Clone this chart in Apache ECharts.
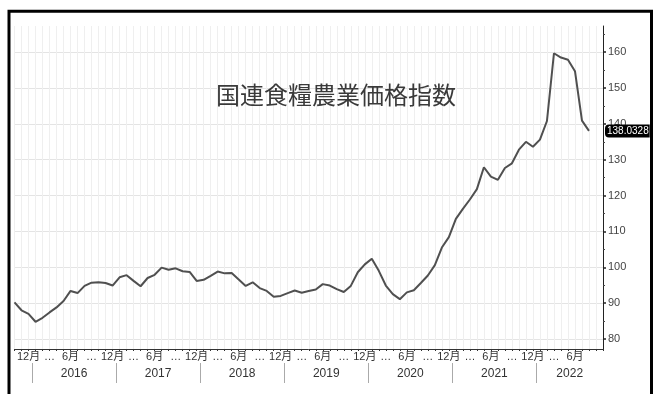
<!DOCTYPE html>
<html><head><meta charset="utf-8">
<script src="https://cdn.jsdelivr.net/npm/echarts@6/dist/echarts.min.js"></script>
<style>html,body{margin:0;padding:0;background:#fff}#c{width:657px;height:394px}</style>
</head><body><div id="c"></div>
<script>
// ---- data ----
const startYear = 2015, startMonth = 10, monthCount = 85; // Oct 2015 .. Oct 2022
const months = [];
for (let i = 0; i < monthCount; i++) {
  const t = startYear * 12 + (startMonth - 1) + i;
  const y = Math.floor(t / 12), m = t % 12 + 1;
  months.push(y + '-' + (m < 10 ? '0' + m : m));
}
const indexValues = [
  90.2, 88.0, 87.0,
  84.8, 85.9, 87.4, 88.8, 90.6, 93.4, 92.8, 94.8, 95.7, 95.8, 95.6, 94.9,
  97.2, 97.8, 96.2, 94.7, 97.0, 97.9, 99.9, 99.3, 99.7, 98.9, 98.7, 96.2,
  96.5, 97.6, 98.8, 98.3, 98.4, 96.6, 94.8, 95.8, 94.2, 93.4, 91.8, 92.0,
  92.8, 93.5, 92.9, 93.4, 93.8, 95.3, 94.9, 93.9, 93.1, 94.8, 98.6, 100.8,
  102.4, 99.0, 94.9, 92.5, 91.1, 93.0, 93.6, 95.6, 97.7, 100.6, 105.5, 108.4,
  113.5, 116.3, 118.9, 121.8, 127.9, 125.3, 124.4, 127.7, 129.0, 132.8, 135.0, 133.6,
  135.6, 140.8, 159.7, 158.5, 157.9, 154.7, 140.9, 138.0328
];
const yTickLabels = [80, 90, 100, 110, 120, 130, 140, 150, 160];
const yMinorTicks = [85, 95, 105, 115, 125, 135, 145, 155, 165];
const yearLabels = ['2016', '2017', '2018', '2019', '2020', '2021', '2022'];
const monthLabelText = { 12: '12月', 6: '6月', 3: '…', 9: '…' };

// ---- derived ----
const lastIdx = indexValues.length - 1;
const lastValue = indexValues[lastIdx];
const seriesData = months.map((m, i) => i < indexValues.length ? indexValues[i] : null);
const yearBoundaries = [], yearCenters = [];
yearLabels.forEach(y => {
  const first = months.indexOf(y + '-01');
  const lastInYear = months.lastIndexOf(months.filter(m => m.startsWith(y)).slice(-1)[0]);
  const lo = first - 0.5;
  const hi = Math.min(lastInYear + 0.5, monthCount - 1);
  yearBoundaries.push(lo);
  yearCenters.push((lo + hi) / 2);
});

const font = '"Liberation Sans", "Noto Sans CJK JP", sans-serif';
const chart = echarts.init(document.getElementById('c'));
chart.setOption({
  animation: false,
  backgroundColor: '#fff',
  title: {
    text: '国連食糧農業価格指数',
    left: 216, top: 83, padding: 0,
    textStyle: { fontFamily: '"Noto Sans CJK JP", sans-serif', fontSize: 24, fontWeight: 'normal', color: '#3a3a3a' }
  },
  graphic: [{
    type: 'rect', silent: true, z: 100,
    shape: { x: 9, y: 11.3, width: 642.5, height: 400 },
    style: { fill: 'none', stroke: '#000', lineWidth: 3 }
  }],
  grid: { left: 14.5, right: 54, top: 26, bottom: 45 },
  xAxis: [{
    type: 'category', data: months, boundaryGap: false,
    axisLine: { onZero: false, lineStyle: { color: '#333', width: 1 } },
    axisTick: { show: true, interval: 0, length: 2, lineStyle: { color: '#333' } },
    splitLine: { show: true, interval: 0, lineStyle: { color: '#efefef', width: 1 } },
    axisLabel: {
      interval: (i, v) => i <= lastIdx && monthLabelText[+v.slice(5)] !== undefined,
      formatter: (v) => monthLabelText[+v.slice(5)] || '',
      margin: 2, fontSize: 11, color: '#333', fontFamily: font
    }
  }, {
    type: 'value', min: 0, max: monthCount - 1, position: 'bottom', offset: 14,
    axisLine: { show: false, onZero: false },
    splitLine: { show: false },
    axisTick: { show: true, customValues: yearBoundaries, length: 20, lineStyle: { color: '#aaa' } },
    axisLabel: {
      customValues: yearCenters,
      formatter: (v) => yearLabels[yearCenters.findIndex(c => Math.abs(c - v) < 1e-6)] || '',
      margin: 5, fontSize: 12, color: '#333', fontFamily: font
    }
  }],
  yAxis: [{
    type: 'value', position: 'right', min: 77.2, max: 167.3,
    axisLine: { show: true, onZero: false, lineStyle: { color: '#222', width: 1 } },
    axisTick: { show: true, customValues: yTickLabels, length: 3, lineStyle: { color: '#222', width: 1.5 } },
    axisLabel: { customValues: yTickLabels, margin: 5, fontSize: 11, color: '#444', fontFamily: font },
    splitLine: { show: true, lineStyle: { color: '#e4e4e4', width: 1 } }
  }, {
    type: 'value', position: 'right', min: 77.2, max: 167.3,
    axisLine: { show: false, onZero: false },
    axisTick: { show: true, customValues: yMinorTicks, length: 2, lineStyle: { color: '#444' } },
    axisLabel: { show: false },
    splitLine: { show: false }
  }],
  series: [{
    type: 'line', data: seriesData, xAxisIndex: 0, yAxisIndex: 0,
    symbol: 'none', connectNulls: false, clip: false,
    lineStyle: { color: '#505050', width: 2 },
    markLine: {
      silent: true, symbol: 'none', z: 10,
      lineStyle: { color: 'rgba(0,0,0,0)', opacity: 1, width: 1, type: 'solid' },
      data: [{ yAxis: lastValue }],
      label: {
        show: true, position: 'end', distance: 2, opacity: 1,
        formatter: () => String(lastValue),
        backgroundColor: '#000', color: '#fff', fontSize: 10, fontFamily: font,
        padding: [2, 1, 1, 2], borderRadius: [4, 0, 0, 4]
      }
    }
  }]
});
</script></body></html>
